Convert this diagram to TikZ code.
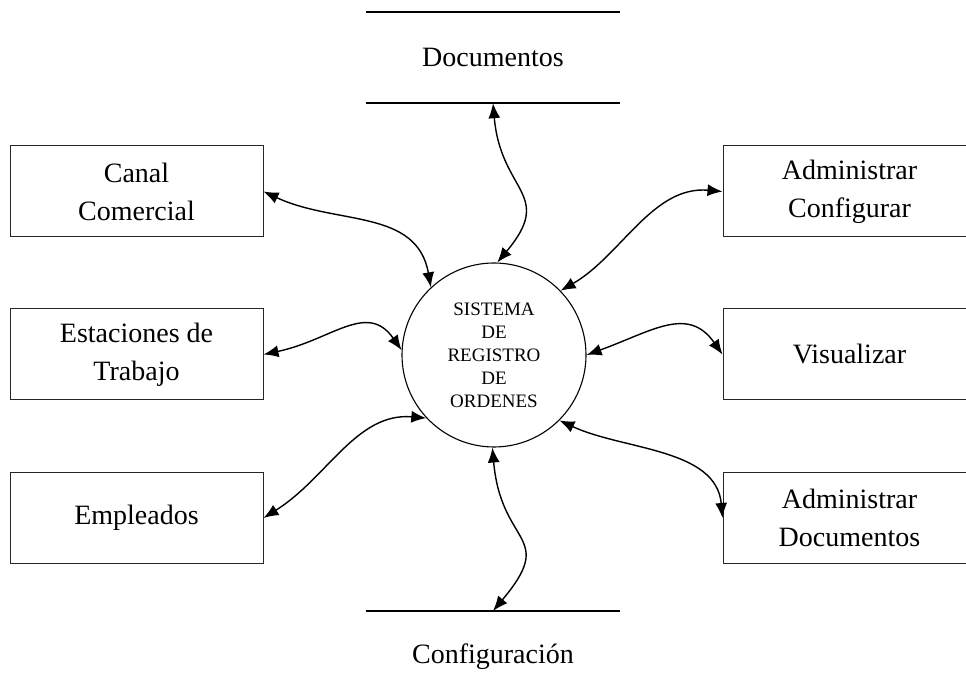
\documentclass[tikz,border=0pt]{standalone}
\usepackage{fontspec}
\setmainfont{Liberation Serif}
\usepackage{tikz}
\usetikzlibrary{arrows.meta}

\begin{document}
\begin{tikzpicture}[x=1pt, y=1pt,
  entidad/.style={draw=black!85, line width=1pt, minimum width=253pt, minimum height=91pt,
    align=center, font=\fontsize{28}{38}\selectfont},
  proceso/.style={draw, circle, line width=1.1pt, minimum size=184pt, inner sep=0pt,
    align=center, font=\fontsize{19}{23}\selectfont},
  almacen/.style={minimum width=254pt, minimum height=91pt, inner sep=0pt,
    font=\fontsize{28}{38}\selectfont},
  flujo/.style={{Latex[length=15pt,width=12pt]}-{Latex[length=15pt,width=12pt]}, line width=1.4pt}]

\useasboundingbox (0,0) rectangle (966,698);

% Proceso central
\node[proceso] (sis) at (494,343) {SISTEMA\\DE\\REGISTRO\\DE\\ORDENES};

% Entidades externas
\node[entidad] (canal) at (136.5,506.5) {Canal\\Comercial};
\node[entidad] (estac) at (136.5,343.5) {Estaciones de\\Trabajo};
\node[entidad] (emple) at (136.5,180) {Empleados};
\node[entidad] (admconf) at (849.5,506.5) {Administrar\\Configurar};
\node[entidad] (visual) at (849.5,343.5) {Visualizar};
\node[entidad] (admdoc) at (849.5,180) {Administrar\\Documentos};

% Almacenes de datos
\node[almacen] (docs) at (493,640.5) {Documentos};
\draw[line width=1.5pt] (docs.north west) -- (docs.north east);
\draw[line width=1.5pt] (docs.south west) -- (docs.south east);

\node[almacen, minimum height=0pt] (confl) at (493,87) {};
\draw[line width=1.5pt] (confl.west) -- (confl.east);
\node[font=\fontsize{28}{38}\selectfont] (conf) at (493,41) {Configuración};

% Flujos
\draw[flujo] (docs.south) .. controls +(-85:90) and +(50:90) .. (sis.88);
\draw[flujo] (canal.east) .. controls +(-25:80) and +(100:80) .. (sis.133);
\draw[flujo] (admconf.west) .. controls +(175:70) and +(30:70) .. (sis.44);
\draw[flujo] (estac.east) .. controls +(12:70) and +(125:60) .. (sis.177);
\draw[flujo] (sis.0) .. controls +(20:70) and +(125:60) .. (visual.west);
\draw[flujo] (emple.east) .. controls +(32:75) and +(175:70) .. (sis.223);
\draw[flujo] (sis.315) .. controls +(-25:70) and +(95:70) .. (admdoc.west);
\draw[flujo] (sis.269) .. controls +(-85:100) and +(50:100) .. (confl.center);

\end{tikzpicture}
\end{document}
